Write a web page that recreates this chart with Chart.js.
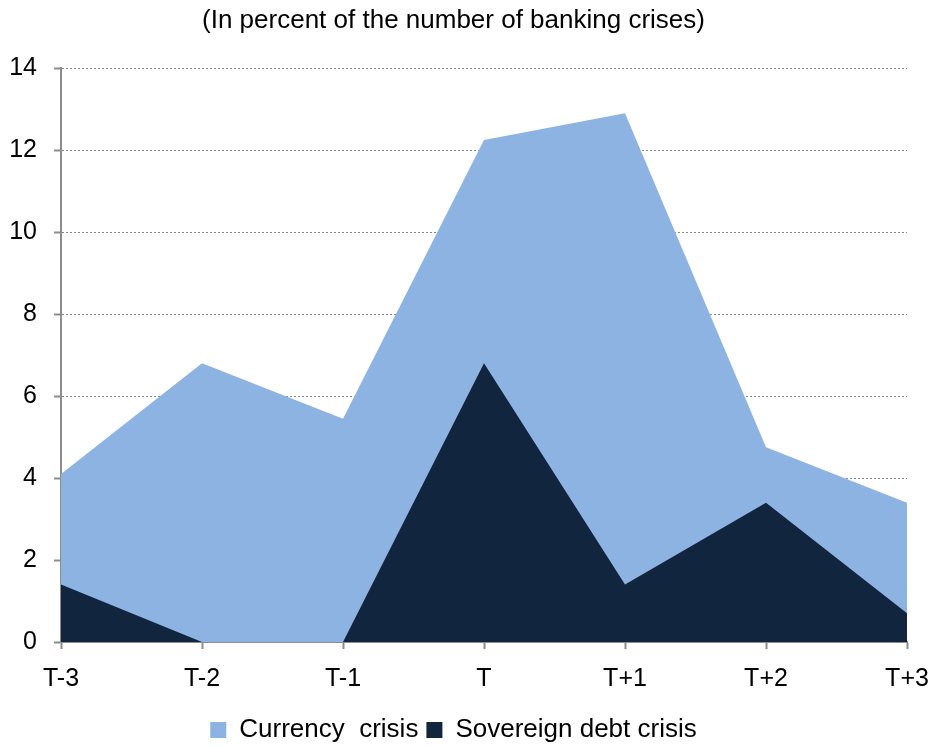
<!DOCTYPE html>
<html>
<head>
<meta charset="utf-8">
<script src="https://cdn.jsdelivr.net/npm/chart.js@4/dist/chart.umd.min.js"></script>
<style>
  html, body { margin: 0; padding: 0; background: #fff; }
  #wrap { width: 933px; height: 746px; }
</style>
</head>
<body>
<div id="wrap"><canvas id="c" width="933" height="746"></canvas></div>
<script>
// Years relative to the onset of a banking crisis
const periods = ['T-3', 'T-2', 'T-1', 'T', 'T+1', 'T+2', 'T+3'];

// Share of banking crises accompanied by each type of crisis (%)
const currencyCrisis  = [4.1, 6.8, 5.45, 12.25, 12.9, 4.75, 3.4];
const sovereignCrisis = [1.4, 0, 0, 6.8, 1.4, 3.4, 0.7];

const yTicks = [0, 2, 4, 6, 8, 10, 12, 14];

const FONT = "'Liberation Sans', Arial, sans-serif";
const AXIS_GREY = '#8c8c8c';

new Chart(document.getElementById('c'), {
  type: 'line',
  data: {
    labels: periods,
    datasets: [
      {
        label: 'Currency  crisis',
        data: currencyCrisis,
        fill: 'origin',
        backgroundColor: '#8db3e2',
        borderColor: '#8db3e2',
        borderWidth: 0,
        pointRadius: 0,
        tension: 0,
        order: 1
      },
      {
        label: 'Sovereign debt crisis',
        data: sovereignCrisis,
        fill: 'origin',
        backgroundColor: '#11253f',
        borderColor: '#11253f',
        borderWidth: 0,
        pointRadius: 0,
        tension: 0,
        order: 0
      }
    ]
  },
  options: {
    responsive: false,
    animation: false,
    layout: { padding: { left: 0, right: 26, top: 0, bottom: -7 } },
    plugins: {
      tooltip: { enabled: false },
      title: {
        display: true,
        text: '(In percent of the number of banking crises)',
        color: '#000',
        font: { family: FONT, size: 26, weight: 'normal' },
        padding: { top: 5, bottom: 32 }
      },
      legend: {
        position: 'bottom',
        labels: {
          color: '#000',
          font: { family: FONT, size: 26 },
          boxWidth: 16,
          boxHeight: 16,
          padding: 8,
          sort: (a, b) => a.datasetIndex - b.datasetIndex
        }
      }
    },
    scales: {
      x: {
        offset: false,
        afterFit: (scale) => { scale.paddingRight = 0; },
        grid: {
          display: true,
          drawOnChartArea: false,
          drawTicks: true,
          tickLength: 7,
          tickWidth: 2,
          tickColor: AXIS_GREY,
          color: AXIS_GREY
        },
        border: { display: true, color: AXIS_GREY, width: 2 },
        ticks: {
          color: '#000',
          font: { family: FONT, size: 25 },
          padding: 15,
          maxRotation: 0,
          autoSkip: false
        }
      },
      y: {
        min: 0,
        max: 14,
        afterBuildTicks: (scale) => {
          scale.ticks = yTicks.map(v => ({ value: v }));
        },
        afterFit: (scale) => { scale.width = 61; },
        grid: {
          color: '#8a8a8a',
          lineWidth: 1,
          drawTicks: true,
          tickLength: 7,
          tickWidth: 2,
          tickColor: AXIS_GREY,
          tickBorderDash: []
        },
        border: { display: true, color: AXIS_GREY, width: 2, dash: [2, 2] },
        ticks: {
          color: '#000',
          font: { family: FONT, size: 25 },
          padding: 17
        }
      }
    }
  }
});
</script>
</body>
</html>
